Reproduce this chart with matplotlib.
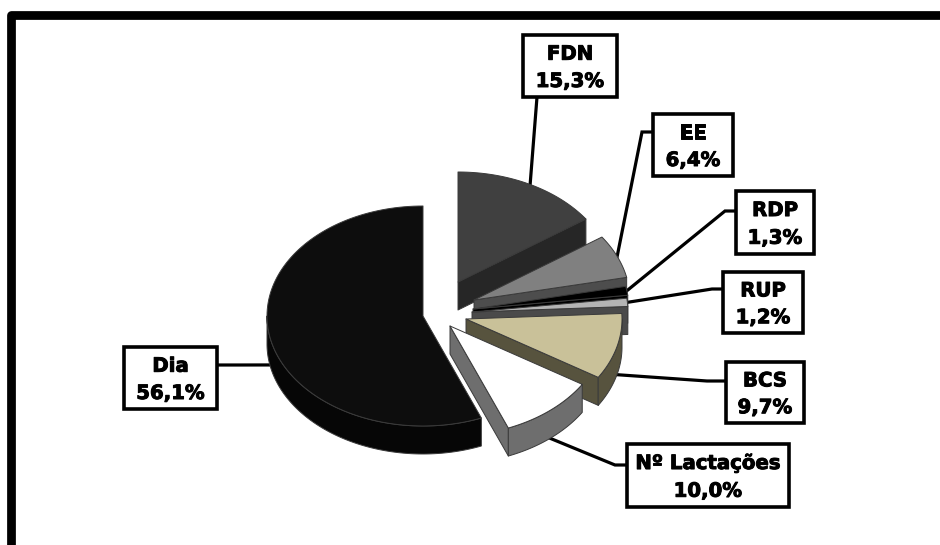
import numpy as np
from matplotlib import pyplot as plt
from matplotlib import patheffects
from matplotlib.patches import Polygon, Rectangle

names = ['FDN', 'EE', 'RDP', 'RUP', 'BCS', 'Nº Lactações', 'Dia']
values = [15.3, 6.4, 1.3, 1.2, 9.7, 10.0, 56.1]

top_colors = ['#404040', '#808080', '#000000', '#b4b4b4', '#c9c199', '#ffffff', '#0d0d0d']
side_colors = ['#262626', '#4d4d4d', '#000000', '#4a4a4a', '#57533e', '#6e6e6e', '#060606']

# layout in pixels, y going down
RX = 156
RY = 110
DEPTH = 28
apex = [(458, 282), (474, 300), (473, 309), (472, 312), (466, 319), (450, 326), (423, 316)]
boxes = [(523, 35, 94, 62), (653, 114, 80, 62), (736, 191, 78, 63), (723, 272, 80, 61),
         (726, 362, 78, 61), (627, 444, 162, 63), (124, 347, 93, 62)]
elbows = [(537, 97), (642, 132), (725, 211), (712, 289), (707, 381), (615, 465), (240, 365)]
box_sides = [(537, 97), (653, 132), (736, 211), (723, 289), (726, 381), (627, 465), (217, 365)]
draw_order = [0, 1, 2, 3, 4, 6, 5]


def arc(center, t0, t1, dy=0):
  t = np.radians(np.linspace(t0, t1, 120))
  return np.column_stack([center[0] + RX * np.sin(t), center[1] - RY * np.cos(t) + dy])


fig = plt.figure(figsize=(9.4, 5.45), dpi=100)
ax = fig.add_axes([0, 0, 1, 1])
ax.set_xlim(0, 940)
ax.set_ylim(545, 0)
ax.axis('off')

# frame only has left and top sides, the rest is cut off
ax.plot([11, 11, 940], [545, 14.5, 14.5], color='black', lw=6.3, solid_joinstyle='round',
        solid_capstyle='butt', zorder=1)

angles = np.cumsum([0] + values) * 3.6
edge = dict(edgecolor='#3a3a3a', linewidth=0.7, joinstyle='round')
heavy = [patheffects.withStroke(linewidth=0.7, foreground='black')]

for z, i in enumerate(draw_order):
  t0, t1 = angles[i], angles[i + 1]
  c = apex[i]
  zo = 2 + z

  # radial wall at the clockwise end, faces the viewer on the right half
  if t1 < 180:
    p = arc(c, t1, t1)[0]
    wall = [c, p, (p[0], p[1] + DEPTH), (c[0], c[1] + DEPTH)]
    ax.add_patch(Polygon(wall, facecolor=side_colors[i], zorder=zo, **edge))

  # outer rim, only the front part shows
  r0, r1 = max(t0, 90), min(t1, 270)
  if r1 > r0:
    rim = np.vstack([arc(c, r0, r1), arc(c, r1, r0, DEPTH)])
    ax.add_patch(Polygon(rim, facecolor=side_colors[i], zorder=zo, **edge))

  top = np.vstack([[c], arc(c, t0, t1)])
  ax.add_patch(Polygon(top, facecolor=top_colors[i], zorder=zo + 0.5, **edge))

for i in range(len(values)):
  # leader goes from the slice middle to the label box
  mid = (angles[i] + angles[i + 1]) / 2
  end = arc(apex[i], mid, mid, DEPTH if 90 < mid < 270 else 0)[0]
  xs = [end[0], elbows[i][0], box_sides[i][0]]
  ys = [end[1], elbows[i][1], box_sides[i][1]]
  ax.plot(xs, ys, color='black', lw=2.3, solid_joinstyle='miter', zorder=1.5)

  x, y, w, h = boxes[i]
  ax.add_patch(Rectangle((x, y), w, h, facecolor='white', edgecolor='black', linewidth=2.6, zorder=20))
  pct = f'{values[i]:.1f}%'.replace('.', ',')
  ax.text(x + w / 2, y + h * 0.31, names[i], ha='center', va='center', fontsize=14.2,
          fontweight='bold', family='DejaVu Sans', zorder=21, path_effects=heavy)
  ax.text(x + w / 2, y + h * 0.75, pct, ha='center', va='center', fontsize=14.2,
          fontweight='bold', family='DejaVu Sans', zorder=21, path_effects=heavy)

fig.savefig('out.png', dpi=100)
